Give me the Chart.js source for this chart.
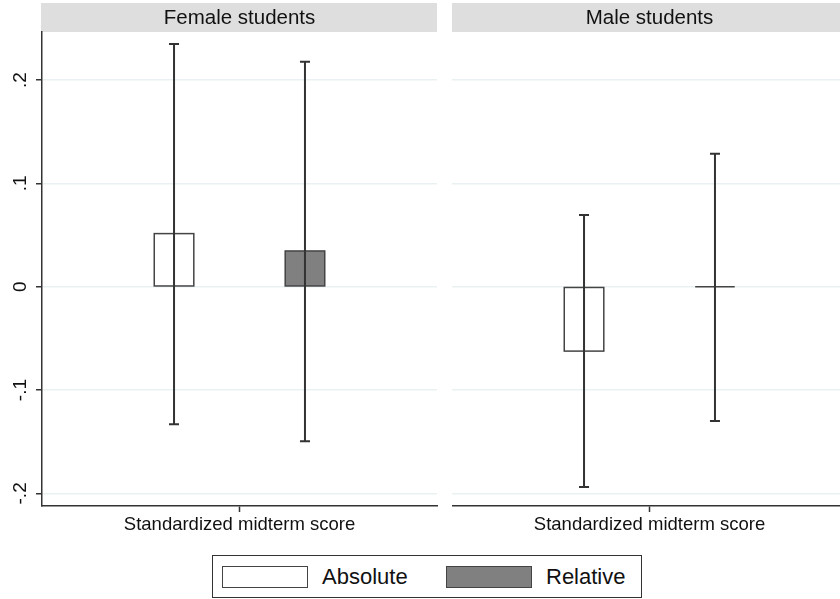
<!DOCTYPE html>
<html>
<head>
<meta charset="utf-8">
<script src="https://cdn.jsdelivr.net/npm/chart.js@4"></script>
<style>
  html, body { margin: 0; padding: 0; background: #fff; }
  body { width: 840px; height: 599px; overflow: hidden; position: relative; font-family: "Liberation Sans", Arial, sans-serif; }
  canvas { position: absolute; top: 0; }
  #legend { position: absolute; left: 212px; top: 555px; width: 428px; height: 41px; border: 1px solid #333; box-sizing: content-box; }
  .item { position: absolute; top: 10px; height: 22px; display: flex; align-items: center; font-size: 22px; color: #111; }
  .swatch { width: 84px; height: 20px; border: 1px solid #444; margin-right: 14px; }
</style>
</head>
<body>
<canvas id="female" width="440" height="546" style="left:0"></canvas>
<canvas id="male" width="395" height="546" style="left:452px"></canvas>
<div id="legend"></div>
<script>
const panels = ['Female students', 'Male students'];
const seriesNames = ['Absolute', 'Relative'];
const xLabel = 'Standardized midterm score';
const yTicks = [-0.2, -0.1, 0, 0.1, 0.2];

// point estimates and 95% CI bounds, [female, male]
const absoluteEst = [0.0514, -0.0623];
const absoluteLow = [-0.133, -0.1938];
const absoluteHigh = [0.235, 0.0695];
const relativeEst = [0.0346, 0];
const relativeLow = [-0.1495, -0.130];
const relativeHigh = [0.2177, 0.1286];

const fills = ['#ffffff', '#808080'];
const outline = '#444';
const ink = '#333';
const font = '"Liberation Sans", Arial, sans-serif';

const headerPlugin = {
  id: 'panelHeader',
  beforeDraw(chart, args, opts) {
    const { ctx, chartArea } = chart;
    ctx.save();
    ctx.fillStyle = '#dedede';
    ctx.fillRect(chartArea.left - 1, 3, chartArea.right - chartArea.left + 1, 29);
    ctx.fillStyle = '#111';
    ctx.font = '20.5px ' + font;
    ctx.textAlign = 'center';
    ctx.textBaseline = 'middle';
    ctx.fillText(opts.text, (chartArea.left + chartArea.right) / 2, 18);
    ctx.restore();
  }
};

const ciPlugin = {
  id: 'ciBars',
  afterDatasetsDraw(chart) {
    const { ctx } = chart;
    const yScale = chart.scales.y;
    chart.data.datasets.forEach((ds, i) => {
      chart.getDatasetMeta(i).data.forEach((bar, j) => {
        const p = bar.getProps(['x', 'y', 'base', 'width'], true);
        ctx.save();
        ctx.strokeStyle = outline;
        ctx.lineWidth = 1.5;
        ctx.strokeRect(p.x - p.width / 2, Math.min(p.y, p.base), p.width, Math.abs(p.base - p.y));
        const lo = yScale.getPixelForValue(ds.low[j]);
        const hi = yScale.getPixelForValue(ds.high[j]);
        ctx.strokeStyle = ink;
        ctx.lineWidth = 2;
        ctx.beginPath();
        ctx.moveTo(p.x, lo); ctx.lineTo(p.x, hi);
        ctx.moveTo(p.x - 5, lo); ctx.lineTo(p.x + 5, lo);
        ctx.moveTo(p.x - 5, hi); ctx.lineTo(p.x + 5, hi);
        ctx.stroke();
        ctx.restore();
      });
    });
  }
};

function makePanel(id, g, showY) {
  new Chart(document.getElementById(id), {
    type: 'bar',
    data: {
      labels: [xLabel],
      datasets: [
        { label: seriesNames[0], data: [absoluteEst[g]], low: [absoluteLow[g]], high: [absoluteHigh[g]], backgroundColor: fills[0], borderWidth: 0 },
        { label: seriesNames[1], data: [relativeEst[g]], low: [relativeLow[g]], high: [relativeHigh[g]], backgroundColor: fills[1], borderWidth: 0 }
      ]
    },
    options: {
      responsive: false,
      animation: false,
      devicePixelRatio: 1,
      categoryPercentage: 0.663,
      barPercentage: 0.302,
      layout: { padding: { top: 32, right: showY ? 3 : 0, left: 0, bottom: 0 } },
      plugins: {
        legend: { display: false },
        tooltip: { enabled: false },
        title: { display: false },
        panelHeader: { text: panels[g] }
      },
      scales: {
        x: {
          offset: true,
          grid: { display: true, drawOnChartArea: false, offset: false, tickLength: 6, tickColor: ink, tickWidth: 1.5 },
          border: { display: true, color: ink, width: 1.5 },
          ticks: { color: '#111', font: { family: font, size: 18.5 }, padding: 2 },
          afterFit(scale) { scale.height = 40; }
        },
        y: {
          min: -0.2122,
          max: 0.2465,
          afterBuildTicks(scale) { scale.ticks = yTicks.map(v => ({ value: v })); },
          grid: { color: '#eaf1f3', lineWidth: 1.5, drawTicks: showY, tickLength: 6, tickColor: ink, tickWidth: 1.5 },
          border: { display: showY, color: ink, width: 1.5 },
          ticks: {
            display: showY,
            autoSkip: false,
            minRotation: 90,
            maxRotation: 90,
            crossAlign: 'center',
            padding: 4,
            color: '#111',
            font: { family: font, size: 19 },
            callback: v => v === 0 ? '0' : String(v).replace('0.', '.')
          },
          afterFit(scale) { scale.width = showY ? 42 : 0; }
        }
      }
    },
    plugins: [headerPlugin, ciPlugin]
  });
}

makePanel('female', 0, true);
makePanel('male', 1, false);

const legend = document.getElementById('legend');
const itemLeft = [9, 233];
seriesNames.forEach((name, i) => {
  const item = document.createElement('div');
  item.className = 'item';
  item.style.left = itemLeft[i] + 'px';
  const sw = document.createElement('span');
  sw.className = 'swatch';
  sw.style.background = fills[i];
  const label = document.createElement('span');
  label.textContent = name;
  item.appendChild(sw);
  item.appendChild(label);
  legend.appendChild(item);
});
</script>
</body>
</html>
